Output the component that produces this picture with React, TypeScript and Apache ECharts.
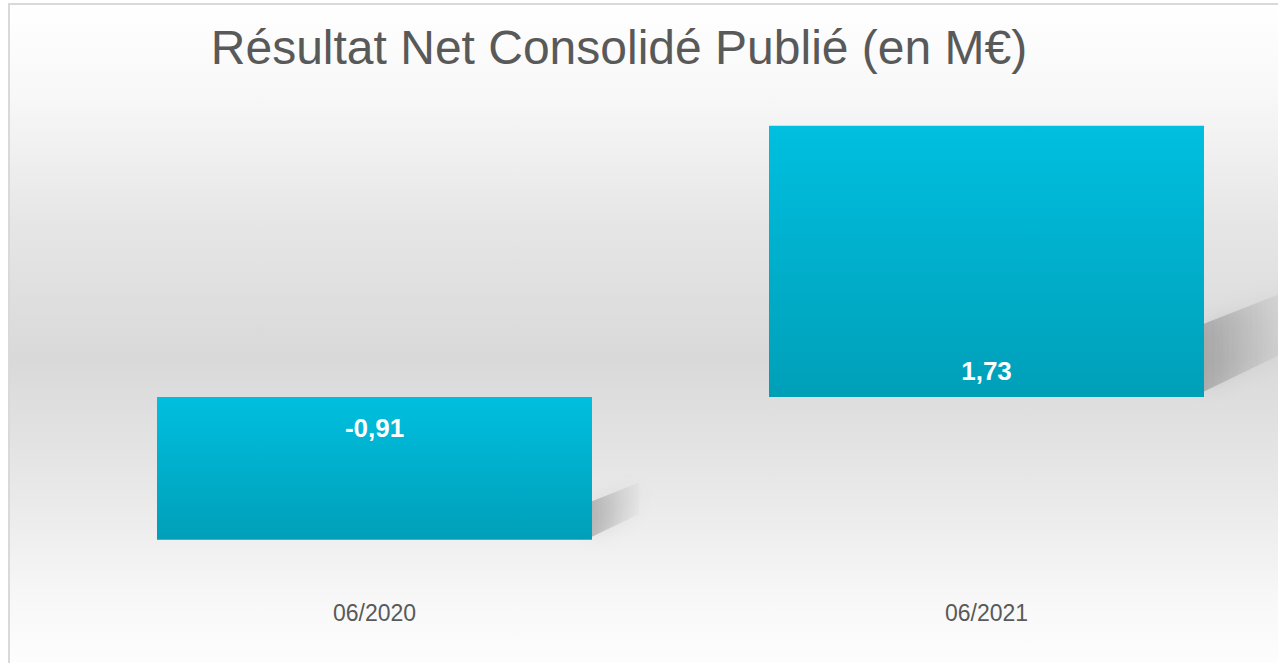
import React, { useEffect, useRef } from "react";
import * as echarts from "echarts";

const TITLE = "Résultat Net Consolidé Publié (en M€)";
const categories = ["06/2020", "06/2021"];
const values = [-0.91, 1.73];

const BAR_W = 435;

export default function App() {
  const ref = useRef<HTMLDivElement>(null);
  useEffect(() => {
    if (!ref.current) return;
    const chart = echarts.init(ref.current, null, { renderer: "svg" });
    const barGrad = new echarts.graphic.LinearGradient(0, 0, 0, 1, [
      { offset: 0, color: "#00BFDF" },
      { offset: 1, color: "#009FB8" },
    ]);
    chart.setOption({
      animation: false,
      title: {
        text: TITLE,
        left: 604,
        top: 13,
        textAlign: "center",
        textStyle: {
          fontFamily: "Liberation Sans, Arial, sans-serif",
          fontSize: 48,
          fontWeight: "normal",
          color: "#595959",
        },
      },
      grid: { left: 58.5, right: 7.5, top: 78.4, bottom: 92 },
      xAxis: {
        type: "category",
        data: categories,
        axisLine: { show: false, onZero: false },
        axisTick: { show: false },
        axisLabel: {
          margin: 8,
          fontSize: 23,
          color: "#595959",
          fontFamily: "Liberation Sans, Arial, sans-serif",
        },
      },
      yAxis: {
        type: "value",
        min: -1.25,
        max: 2,
        show: false,
        splitLine: { show: false },
      },
      series: [
        {
          type: "custom",
          z: 1,
          silent: true,
          data: values.map((v, i) => [i, v]),
          renderItem: (params: any, api: any) => {
            const idx = api.value(0);
            const v = api.value(1);
            const b = api.coord([idx, 0]);
            const e = api.coord([idx, v]);
            const top = Math.min(b[1], e[1]);
            const bottom = Math.max(b[1], e[1]);
            const h = bottom - top;
            const right = b[0] + BAR_W / 2;
            const far = right + 0.33 * h;
            return {
              type: "polygon",
              shape: {
                points: [
                  [right, bottom - 0.02 * h],
                  [right, bottom - 0.27 * h],
                  [far, bottom - 0.4 * h],
                  [far, bottom - 0.18 * h],
                ],
              },
              style: {
                fill: new echarts.graphic.LinearGradient(0, 0, 1, 0, [
                  { offset: 0, color: "rgba(80,80,80,0.32)" },
                  { offset: 1, color: "rgba(120,120,120,0.04)" },
                ]),
                shadowBlur: 18,
                shadowColor: "rgba(0,0,0,0.25)",
              },
            };
          },
        },
        {
          type: "bar",
          z: 2,
          barWidth: BAR_W,
          data: values.map((v) => ({
            value: v,
            label: {
              position: v < 0 ? "insideTop" : "insideBottom",
              distance: v < 0 ? 18 : 13,
            },
          })),
          itemStyle: { color: barGrad },
          label: {
            show: true,
            color: "#ffffff",
            fontSize: 26,
            fontWeight: "bold",
            fontFamily: "Liberation Sans, Arial, sans-serif",
            formatter: (p: any) => String(p.value).replace(".", ","),
          },
        },
      ],
    });
    return () => chart.dispose();
  }, []);

  return (
    <div
      style={{
        position: "fixed",
        left: 8,
        top: 3,
        borderTop: "2px solid #d9d9d9",
        borderLeft: "2px solid #d9d9d9",
        background:
          "linear-gradient(to bottom, #ffffff 0%, #f8f8f8 13%, #e6e6e6 32%, #d9d9d9 52%, #e9e9e9 72%, #f8f8f8 88%, #ffffff 100%)",
      }}
    >
      <div ref={ref} style={{ width: 1290, height: 680 }} />
    </div>
  );
}
